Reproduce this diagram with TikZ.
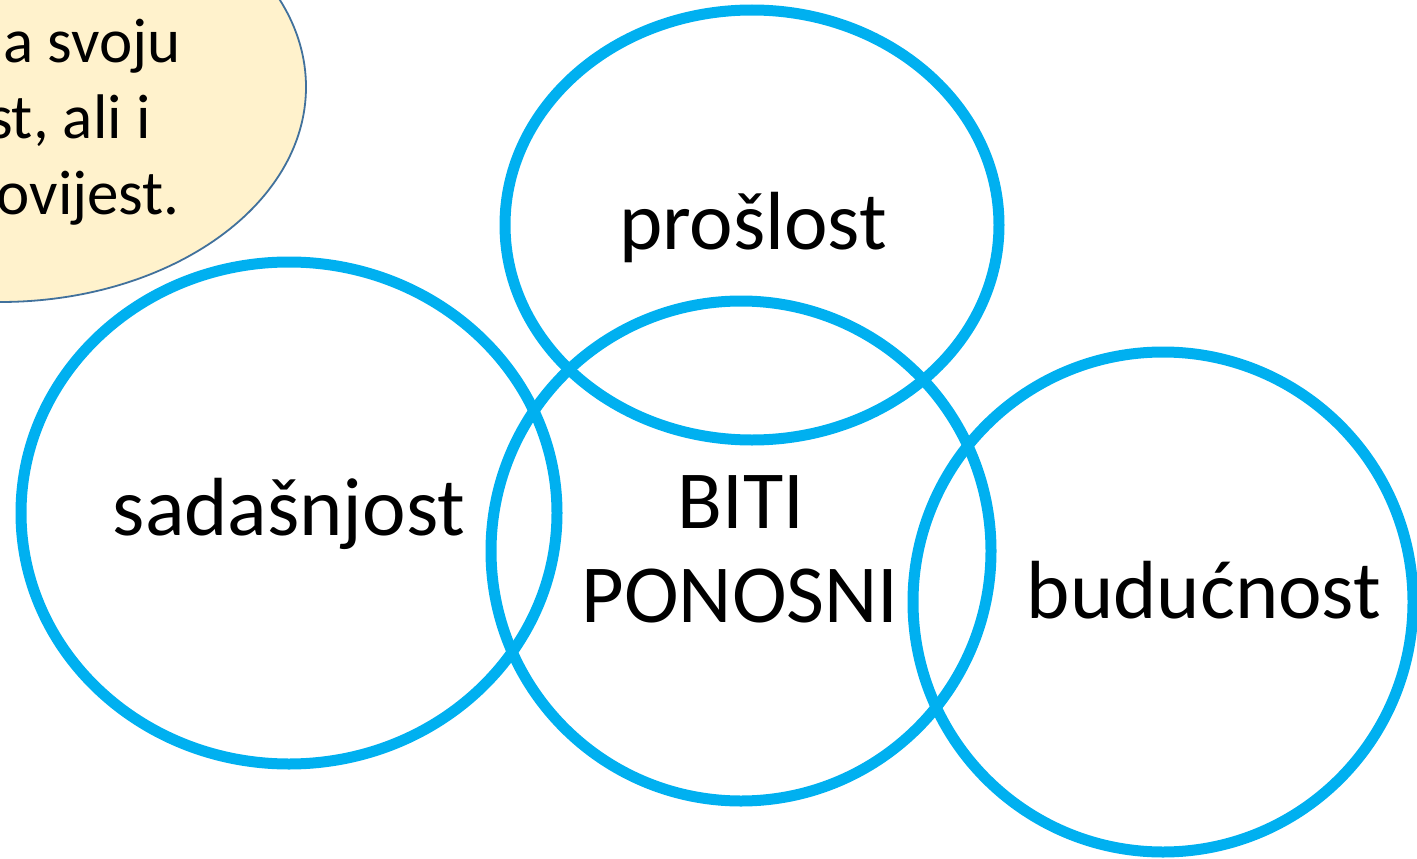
\documentclass[tikz,border=0pt]{standalone}
\usepackage{fontspec}
\setmainfont{Carlito}
\definecolor{ringblue}{HTML}{00B0F0}
\definecolor{calloutfill}{HTML}{FFF2CC}
\definecolor{calloutline}{HTML}{41719C}
\begin{document}
\begin{tikzpicture}[x=1pt,y=-1pt,
  ring/.style={draw=ringblue,line width=11pt},
  bigtext/.style={inner sep=0pt,anchor=base,font=\fontsize{82.5}{99}\selectfont},
  calltext/.style={inner sep=0pt,anchor=base east,font=\fontsize{63}{75}\selectfont}]
\useasboundingbox (0,0) rectangle (1417,859);
\clip (0,0) rectangle (1417,859);
% callout
\draw[fill=calloutfill,draw=calloutline,line width=1.8pt] (0,87) ellipse [x radius=306,y radius=215];
\node[calltext] (c1) at (181,63) {a svoju};
\node[calltext] (c2) at (151,138) {st, ali i};
\node[calltext] (c3) at (180,214) {ovijest.};
% rings
\draw[ring] (752,225) ellipse [x radius=247,y radius=215];
\draw[ring] (741,551) ellipse [x radius=250,y radius=250];
\draw[ring] (289,513) ellipse [x radius=268,y radius=251];
\draw[ring] (1163,602) ellipse [x radius=250,y radius=250];
% labels
\node[bigtext] (past) at (753,249) {prošlost};
\node[bigtext] (now) at (289,535) {sadašnjost};
\node[bigtext] (biti) at (741,528) {BITI};
\node[bigtext] (ponosni) at (740,622) {PONOSNI};
\node[bigtext] (future) at (1204,618) {budućnost};
\end{tikzpicture}
\end{document}
